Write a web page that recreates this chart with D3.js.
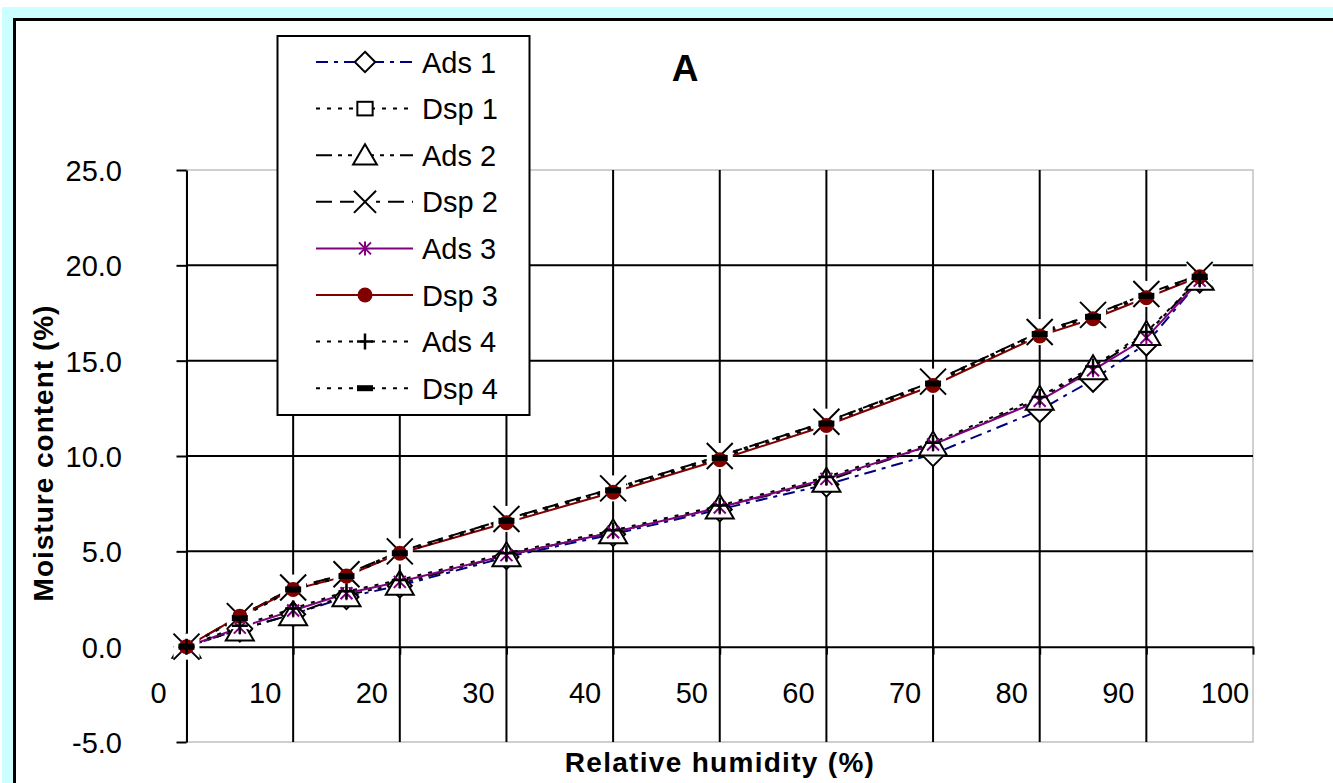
<!DOCTYPE html>
<html>
<head>
<meta charset="utf-8">
<script src="https://cdn.jsdelivr.net/npm/d3@7"></script>
<style>
    body { margin: 0; background: #fff; }
    svg { display: block; font-family: "Liberation Sans", Arial, sans-serif; }
</style>
</head>
<body>
<script>
// relative humidity steps (%)
var rh = [0, 5, 10, 15, 20, 30, 40, 50, 60, 70, 80, 85, 90, 95];

// moisture content (%)
var ads1 = [0, 0.9, 1.7, 2.6, 3.2, 4.7, 5.9, 7.2, 8.5, 10.1, 12.4, 14.0, 15.9, 19.2];
var dsp1 = [0, 1.6, 3.1, 3.8, 5.0, 6.7, 8.3, 10.0, 11.8, 13.9, 16.5, 17.4, 18.5, 19.5];
var ads2 = [0, 0.9, 1.7, 2.7, 3.3, 4.8, 6.0, 7.3, 8.7, 10.6, 13.0, 14.6, 16.4, 19.3];
var dsp2 = [0, 1.6, 3.1, 3.8, 5.0, 6.7, 8.3, 10.0, 11.8, 13.9, 16.5, 17.4, 18.5, 19.5];
var ads3 = [0, 1.0, 1.9, 2.8, 3.4, 4.8, 6.0, 7.3, 8.8, 10.6, 12.9, 14.5, 16.2, 19.2];
var dsp3 = [0, 1.6, 3.0, 3.7, 4.9, 6.5, 8.1, 9.8, 11.6, 13.7, 16.3, 17.2, 18.3, 19.4];
var ads4 = [0, 1.1, 2.0, 2.9, 3.5, 4.9, 6.1, 7.4, 8.9, 10.7, 13.1, 14.7, 16.5, 19.3];
var dsp4 = [0, 1.5, 3.0, 3.7, 4.9, 6.6, 8.2, 9.9, 11.7, 13.8, 16.4, 17.3, 18.4, 19.4];

var seriesNames = ["Ads 1", "Dsp 1", "Ads 2", "Dsp 2", "Ads 3", "Dsp 3", "Ads 4", "Dsp 4"];
var seriesValues = [ads1, dsp1, ads2, dsp2, ads3, dsp3, ads4, dsp4];

var xTicks = [0, 10, 20, 30, 40, 50, 60, 70, 80, 90, 100];
var yTicks = [-5, 0, 5, 10, 15, 20, 25];

// look of each series: line colour, dash, marker
var styles = [
    {color: "#000080", dash: "12,6,4,6", marker: "diamond"},
    {color: "#000", dash: "4,7", marker: "square"},
    {color: "#000", dash: "16,6,4,6,4,6", marker: "triangle"},
    {color: "#000", dash: "16,8", marker: "x"},
    {color: "#800080", dash: null, marker: "star"},
    {color: "#800000", dash: null, marker: "circle"},
    {color: "#000", dash: "4,7", marker: "plus"},
    {color: "#000", dash: "4,7", marker: "dash"}
];

var width = 1333, height = 783;

var svg = d3.select("body").append("svg")
    .attr("width", width)
    .attr("height", height);

//cyan frame and white chart area
svg.append("rect").attr("x", 2).attr("y", 7).attr("width", width).attr("height", height)
    .attr("fill", "#ccffff");
svg.append("rect").attr("x", 14.5).attr("y", 19.5).attr("width", width + 50).attr("height", height + 50)
    .attr("fill", "#fff").attr("stroke", "#000").attr("stroke-width", 3);

var x = d3.scaleLinear().domain([0, 100]).range([186.5, 1253]);
var y = d3.scaleLinear().domain([-5, 25]).range([742, 170]);

//plot area border (grey)
svg.append("rect")
    .attr("x", x(0)).attr("y", y(25))
    .attr("width", x(100) - x(0)).attr("height", y(-5) - y(25))
    .attr("fill", "none").attr("stroke", "#c0c0c0").attr("stroke-width", 1.5);

//gridlines
svg.selectAll(".vgrid")
    .data(xTicks.filter(function(d) { return d > 0 && d < 100; }))
    .enter().append("line")
    .attr("x1", function(d) { return x(d); }).attr("x2", function(d) { return x(d); })
    .attr("y1", y(25)).attr("y2", y(-5))
    .attr("stroke", "#000").attr("stroke-width", 2);

svg.selectAll(".hgrid")
    .data(yTicks.filter(function(d) { return d > 0 && d < 25; }))
    .enter().append("line")
    .attr("x1", x(0)).attr("x2", x(100))
    .attr("y1", function(d) { return y(d); }).attr("y2", function(d) { return y(d); })
    .attr("stroke", "#000").attr("stroke-width", 2);

//x axis crossing at 0
var xAxis = svg.append("g")
    .attr("transform", "translate(0," + y(0) + ")")
    .call(d3.axisBottom(x).tickValues(xTicks).tickSize(8).tickSizeOuter(0).tickFormat(d3.format("d")));
xAxis.select(".domain").attr("stroke", "#000").attr("stroke-width", 2);
xAxis.selectAll(".tick line").attr("stroke", "#000").attr("stroke-width", 2);
xAxis.selectAll(".tick text")
    .attr("font-size", 29).attr("fill", "#000")
    .attr("font-family", "Liberation Sans, Arial, sans-serif")
    .attr("x", -28.5).attr("y", 56).attr("dy", 0);

//y axis, labels with a plain hyphen for negatives
var yAxis = svg.append("g")
    .attr("transform", "translate(" + x(0) + ",0)")
    .call(d3.axisLeft(y).tickValues(yTicks).tickSize(10).tickSizeOuter(0)
        .tickFormat(function(d) { return d.toFixed(1); }));
yAxis.select(".domain").attr("stroke", "#000").attr("stroke-width", 2);
yAxis.selectAll(".tick line").attr("stroke", "#000").attr("stroke-width", 2);
yAxis.selectAll(".tick text")
    .attr("font-size", 29).attr("fill", "#000")
    .attr("font-family", "Liberation Sans, Arial, sans-serif")
    .attr("x", -64.5).attr("dy", "0.36em");

//marker drawing
function drawMarker(g, type, color, s) {
    s = s || 1;
    if (type == "diamond") {
        g.append("path").attr("d", "M0," + (-12 * s) + "L" + (12 * s) + ",0L0," + (12 * s) + "L" + (-12 * s) + ",0Z")
            .attr("fill", "#fff").attr("stroke", "#000").attr("stroke-width", 2);
    } else if (type == "square") {
        g.append("rect").attr("x", -9 * s).attr("y", -8 * s).attr("width", 18 * s).attr("height", 16 * s)
            .attr("fill", "#fff").attr("stroke", "#000").attr("stroke-width", 2);
    } else if (type == "triangle") {
        g.append("path").attr("d", "M0," + (-13 * s) + "L" + (14 * s) + "," + (11 * s) + "L" + (-14 * s) + "," + (11 * s) + "Z")
            .attr("fill", "#fff").attr("stroke", "#000").attr("stroke-width", 2);
    } else if (type == "x") {
        g.append("rect").attr("x", -13 * s).attr("y", -13 * s).attr("width", 26 * s).attr("height", 26 * s)
            .attr("fill", "#fff");
        g.append("path").attr("d", "M" + (-13 * s) + "," + (-13 * s) + "L" + (13 * s) + "," + (13 * s) +
            "M" + (13 * s) + "," + (-13 * s) + "L" + (-13 * s) + "," + (13 * s))
            .attr("stroke", "#000").attr("stroke-width", 2);
    } else if (type == "star") {
        g.append("path").attr("d", "M0,-7L0,7M-6,-6L6,6M6,-6L-6,6")
            .attr("stroke", color).attr("stroke-width", 2);
    } else if (type == "circle") {
        g.append("circle").attr("r", 7.5).attr("fill", color);
    } else if (type == "plus") {
        g.append("path").attr("d", "M0,-8L0,8M-8,0L8,0")
            .attr("stroke", "#000").attr("stroke-width", 2.5);
    } else if (type == "dash") {
        g.append("rect").attr("x", -8).attr("y", -3).attr("width", 16).attr("height", 6)
            .attr("fill", "#000");
    }
}

var line = d3.line()
    .x(function(d, i) { return x(rh[i]); })
    .y(function(d) { return y(d); });

//all lines first, then markers on top
seriesValues.forEach(function(vals, k) {
    svg.append("path")
        .datum(vals)
        .attr("d", line)
        .attr("fill", "none")
        .attr("stroke", styles[k].color)
        .attr("stroke-width", 2)
        .attr("stroke-dasharray", styles[k].dash);
});

seriesValues.forEach(function(vals, k) {
    vals.forEach(function(v, i) {
        var g = svg.append("g").attr("transform", "translate(" + x(rh[i]) + "," + y(v) + ")");
        drawMarker(g, styles[k].marker, styles[k].color, 1);
    });
});

//title
svg.append("text").attr("x", 685).attr("y", 81)
    .attr("text-anchor", "middle").attr("font-size", 37).attr("font-weight", "bold")
    .text("A");

//axis titles
svg.append("text").attr("x", 720).attr("y", 772)
    .attr("text-anchor", "middle").attr("font-size", 28).attr("font-weight", "bold")
    .attr("letter-spacing", 1.3)
    .text("Relative humidity (%)");

svg.append("text")
    .attr("transform", "translate(53,453) rotate(-90)")
    .attr("text-anchor", "middle").attr("font-size", 28).attr("font-weight", "bold")
    .attr("letter-spacing", 1)
    .text("Moisture content (%)");

//legend
var legend = svg.append("g");
legend.append("rect").attr("x", 277.5).attr("y", 36).attr("width", 252).attr("height", 379)
    .attr("fill", "#fff").attr("stroke", "#000").attr("stroke-width", 2);

seriesNames.forEach(function(name, k) {
    var ly = 62 + k * 46.6;
    legend.append("line").attr("x1", 316).attr("x2", 413).attr("y1", ly).attr("y2", ly)
        .attr("stroke", styles[k].color).attr("stroke-width", 2)
        .attr("stroke-dasharray", styles[k].dash);
    var g = legend.append("g").attr("transform", "translate(365," + ly + ")");
    drawMarker(g, styles[k].marker, styles[k].color, 0.85);
    legend.append("text").attr("x", 422).attr("y", ly + 10.5)
        .attr("font-size", 29).text(name);
});
</script>
</body>
</html>
